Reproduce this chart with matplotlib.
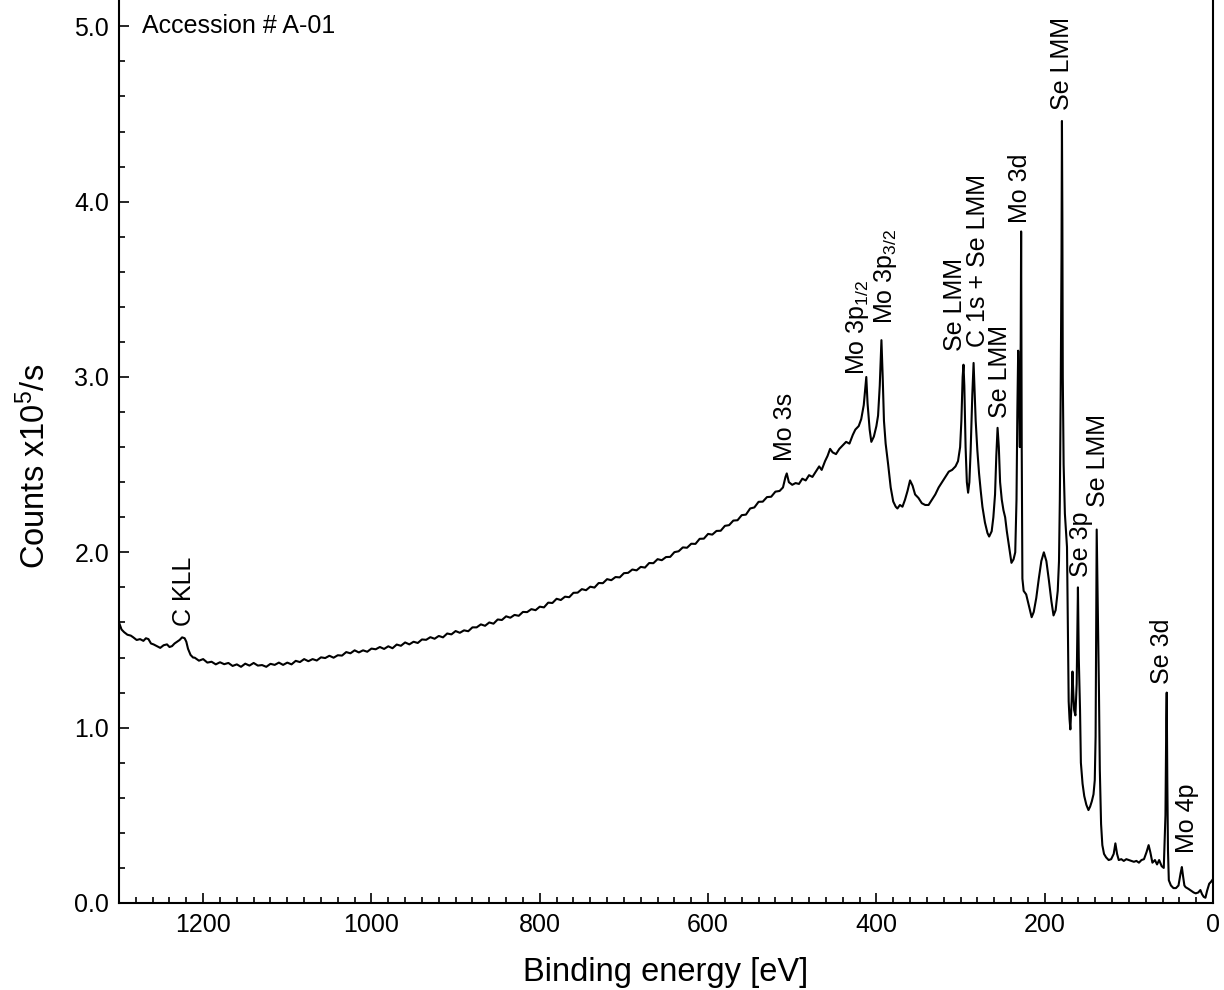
import matplotlib
matplotlib.use('Agg')
import matplotlib.pyplot as plt
from matplotlib.ticker import MultipleLocator, FormatStrFormatter

plt.rcParams['font.family'] = ['Liberation Sans', 'DejaVu Sans']
plt.rcParams['mathtext.default'] = 'regular'

# survey spectrum: binding energy [eV] and counts [x1e5/s]
energy_left = [1300, 1297, 1294, 1290, 1286, 1283, 1279, 1275, 1271, 1268, 1265, 1262,
               1259, 1255, 1251, 1247, 1243, 1240, 1237, 1234, 1231, 1228, 1225, 1222,
               1220, 1218, 1215, 1212]
counts_left = [1.60, 1.56, 1.545, 1.53, 1.525, 1.515, 1.50, 1.505, 1.495, 1.51, 1.505, 1.48,
               1.475, 1.465, 1.455, 1.47, 1.475, 1.46, 1.465, 1.48, 1.49, 1.50, 1.515, 1.51,
               1.49, 1.45, 1.415, 1.40]

# slowly rising inelastic background, 5 eV steps
energy_bg = list(range(1210, 510, -5))
counts_bg = [1.399, 1.382, 1.391, 1.371, 1.376, 1.361, 1.373, 1.362, 1.369, 1.352,
             1.361, 1.347, 1.365, 1.354, 1.369, 1.354, 1.357, 1.347, 1.364, 1.358,
             1.371, 1.358, 1.371, 1.361, 1.381, 1.374, 1.391, 1.379, 1.391, 1.383,
             1.401, 1.397, 1.410, 1.399, 1.413, 1.411, 1.431, 1.424, 1.441, 1.429,
             1.441, 1.433, 1.451, 1.447, 1.460, 1.449, 1.464, 1.453, 1.474, 1.467,
             1.486, 1.475, 1.490, 1.483, 1.503, 1.501, 1.516, 1.507, 1.523, 1.515,
             1.537, 1.532, 1.551, 1.541, 1.555, 1.550, 1.572, 1.572, 1.589, 1.581,
             1.600, 1.593, 1.617, 1.614, 1.635, 1.627, 1.643, 1.638, 1.660, 1.659,
             1.676, 1.670, 1.690, 1.686, 1.713, 1.711, 1.735, 1.728, 1.747, 1.744,
             1.769, 1.770, 1.790, 1.784, 1.804, 1.799, 1.825, 1.824, 1.847, 1.841,
             1.859, 1.857, 1.881, 1.883, 1.902, 1.897, 1.917, 1.913, 1.939, 1.938,
             1.961, 1.955, 1.973, 1.974, 2.001, 2.006, 2.028, 2.026, 2.049, 2.048,
             2.077, 2.078, 2.105, 2.101, 2.122, 2.123, 2.151, 2.155, 2.181, 2.183,
             2.212, 2.215, 2.250, 2.256, 2.288, 2.289, 2.315, 2.317, 2.346, 2.350]

# photoelectron / Auger peak region
energy_peaks = [511, 508, 506.5, 504, 500, 496, 492, 488, 484, 480, 476, 472, 468, 465,
                461, 458, 455, 452, 448, 444, 440, 436, 432, 428, 425, 421, 418, 415,
                413, 412, 410.5, 408, 406, 403, 400, 398, 396, 394, 392.5, 391, 389, 386,
                383, 380, 377, 375, 372, 369, 366, 363, 360, 357, 354, 350, 346, 342,
                338, 334, 330, 326, 322, 318, 314, 310, 306, 303, 300.5, 299, 297.5,
                296.5, 295.5, 294, 292.5, 291, 289.5, 288, 286, 284.5, 283.5, 282, 280,
                278, 276, 274, 271, 268, 266, 263, 261, 259, 257.5, 256, 254.5, 253, 251,
                249, 247, 245, 242, 239.5, 237, 235, 233.5, 232.5, 231.5, 230.5, 229.5,
                228.5, 228, 227.3, 226.5, 225, 222, 219, 215.5, 213, 210, 207, 204, 201,
                198, 195, 192, 189.5, 187, 184.5, 183, 182, 181, 180, 179.5, 179, 178.5,
                177.5, 176, 175, 173.5, 172.5, 171.5, 170.5, 169.5, 168, 167, 166, 165,
                163.5, 162, 161, 160.5, 159.5, 158, 157, 155, 153, 150.5, 148, 146, 144,
                142, 140.5, 139.5, 138.8, 138.2, 137.5, 136.5, 135.5, 134.5, 133, 131.5,
                129.5, 127, 124, 121, 118, 116, 114, 112, 109, 106, 103, 100, 97, 94, 91,
                88, 85, 82, 79, 76.5, 74.5, 72, 69, 66.5, 64, 61, 58.5, 56.5, 55.5, 55,
                54.3, 53.5, 52.5, 50, 47, 44, 41, 38.5, 37, 35.5, 34, 32.5, 29, 26, 23,
                20.5, 17.5, 15, 13, 11, 9, 7, 4.5, 2.5, 1]
counts_peaks = [2.37, 2.43, 2.45, 2.40, 2.385, 2.395, 2.39, 2.42, 2.41, 2.44, 2.43, 2.46,
                2.49, 2.47, 2.52, 2.55, 2.59, 2.57, 2.56, 2.59, 2.61, 2.63, 2.62, 2.67,
                2.70, 2.72, 2.76, 2.84, 2.95, 3.00, 2.85, 2.70, 2.63, 2.66, 2.72, 2.78,
                2.95, 3.21, 3.00, 2.75, 2.62, 2.50, 2.37, 2.29, 2.26, 2.25, 2.27, 2.26,
                2.30, 2.35, 2.41, 2.38, 2.33, 2.31, 2.28, 2.27, 2.27, 2.30, 2.33, 2.37,
                2.40, 2.43, 2.46, 2.47, 2.49, 2.52, 2.60, 2.75, 3.00, 3.07, 2.95, 2.60,
                2.40, 2.34, 2.40, 2.58, 2.90, 3.08, 2.95, 2.75, 2.58, 2.45, 2.35, 2.26,
                2.17, 2.11, 2.09, 2.12, 2.20, 2.33, 2.55, 2.71, 2.60, 2.40, 2.30, 2.24,
                2.20, 2.12, 2.02, 1.94, 1.96, 2.00, 2.30, 2.80, 3.15, 2.90, 2.60, 3.20,
                3.83, 2.60, 1.85, 1.78, 1.76, 1.70, 1.63, 1.66, 1.74, 1.85, 1.95, 2.00,
                1.95, 1.84, 1.72, 1.64, 1.67, 1.78, 1.95, 2.30, 2.90, 3.70, 4.46, 3.90,
                3.00, 2.50, 2.22, 2.14, 2.03, 1.60, 1.15, 1.05, 0.99, 1.15, 1.32, 1.20,
                1.10, 1.07, 1.25, 1.60, 1.80, 1.40, 1.10, 0.80, 0.68, 0.61, 0.56, 0.53,
                0.55, 0.58, 0.62, 0.70, 0.95, 1.60, 2.13, 1.90, 1.60, 1.20, 0.76, 0.45,
                0.33, 0.28, 0.26, 0.245, 0.25, 0.28, 0.34, 0.28, 0.245, 0.25, 0.24, 0.25,
                0.245, 0.24, 0.235, 0.24, 0.23, 0.245, 0.25, 0.29, 0.33, 0.29, 0.23,
                0.245, 0.22, 0.245, 0.21, 0.20, 0.50, 1.05, 1.20, 0.70, 0.30, 0.13, 0.10,
                0.085, 0.085, 0.10, 0.17, 0.205, 0.15, 0.10, 0.09, 0.08, 0.07, 0.06,
                0.055, 0.06, 0.074, 0.05, 0.035, 0.03, 0.07, 0.11, 0.12, 0.13]

energy = energy_left + energy_bg + energy_peaks
counts = counts_left + counts_bg + counts_peaks

# peak labels: text, energy, bottom of the label
peak_labels = ['C KLL', 'Mo 3s', 'Mo 3p$_{1/2}$', 'Mo 3p$_{3/2}$', 'Se LMM',
               'C 1s + Se LMM', 'Se LMM', 'Mo 3d', 'Se LMM', 'Se 3p', 'Se LMM',
               'Se 3d', 'Mo 4p']
label_x = [1223, 508, 423, 389, 306.5, 279, 253, 229.4, 179.5, 157, 136.8, 60.8, 31.1]
label_y = [1.58, 2.52, 3.01, 3.30, 3.15, 3.17, 2.765, 3.88, 4.52, 1.86, 2.26, 1.25, 0.285]

fig = plt.figure(figsize=(12.24, 9.9), dpi=100)
ax = fig.add_axes([119/1224, 87/990, 1094/1224, 903/990])

ax.plot(energy, counts, color='black', lw=1.5)

for txt, x, y in zip(peak_labels, label_x, label_y):
    ax.text(x, y, txt, rotation=90, ha='center', va='bottom', fontsize=18)

ax.text(0.021, 0.971, 'Accession # A-01', transform=ax.transAxes,
        ha='left', va='center', fontsize=18)

ax.set_xlim(1300, 0)
ax.set_ylim(0, 5.15)
ax.xaxis.set_major_locator(MultipleLocator(200))
ax.xaxis.set_minor_locator(MultipleLocator(20))
ax.yaxis.set_major_locator(MultipleLocator(1.0))
ax.yaxis.set_minor_locator(MultipleLocator(0.2))
ax.yaxis.set_major_formatter(FormatStrFormatter('%.1f'))

ax.tick_params(which='both', direction='in', top=False, right=False,
               labelsize=18, width=1.2, pad=7)
ax.tick_params(which='major', length=7)
ax.tick_params(which='minor', length=4)
for side in ['left', 'right', 'bottom']:
    ax.spines[side].set_linewidth(1.5)
ax.spines['top'].set_visible(False)

ax.set_xlabel('Binding energy [eV]', fontsize=23.5)
ax.set_ylabel('Counts x10$^5$/s', fontsize=23.5)
ax.xaxis.set_label_coords(0.5, -0.06)
ax.yaxis.set_label_coords(-0.061, 0.483)

fig.savefig('out.png', dpi=100)
